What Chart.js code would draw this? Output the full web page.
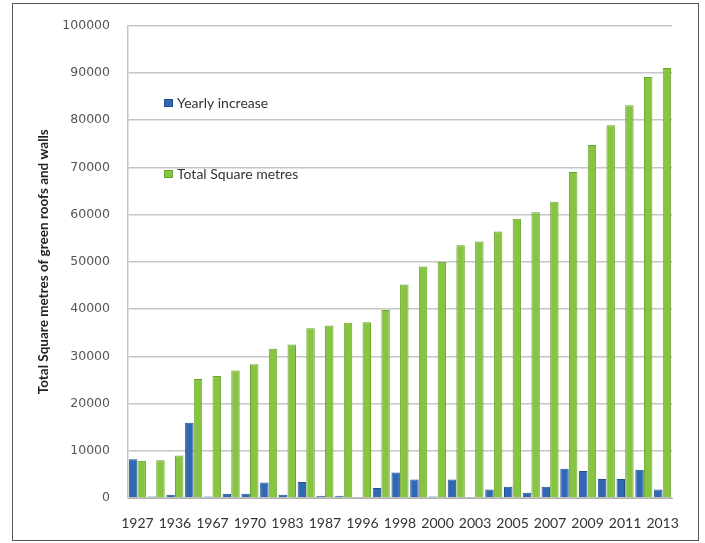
<!DOCTYPE html>
<html>
<head>
<meta charset="utf-8">
<script src="https://cdn.jsdelivr.net/npm/chart.js@4/dist/chart.umd.min.js"></script>
<style>
  html, body { margin: 0; padding: 0; background: #fff; }
  #wrap { position: relative; width: 705px; height: 543px; }
  #chart { position: absolute; left: 0; top: 0; }
  #frame { position: absolute; left: 12px; top: 3px; width: 685px; height: 536px; border: 1px solid #555; pointer-events: none; }
</style>
</head>
<body>
<div id="wrap">
  <canvas id="chart" width="705" height="543"></canvas>
  <div id="frame"></div>
</div>
<script>
// years (only every other one is printed on the axis)
const years = ["1927", "1930", "1936", "1960", "1967", "1968", "1970", "1980", "1983", "1985",
  "1987", "1990", "1996", "1997", "1998", "1999", "2000", "2001", "2003", "2004",
  "2005", "2006", "2007", "2008", "2009", "2010", "2011", "2012", "2013"];
const yearlyIncrease = [8200, 300, 700, 15900, 300, 900, 900, 3300, 700, 3400,
  500, 500, 200, 2100, 5400, 3900, 300, 3900, 200, 1800,
  2400, 1100, 2400, 6200, 5700, 4000, 4000, 6000, 1800];
const totalSquareMetres = [7900, 8000, 9000, 25200, 25800, 27000, 28300, 31600, 32500, 35900,
  36500, 37100, 37200, 39800, 45200, 49000, 50000, 53500, 54300, 56400,
  59100, 60500, 62700, 69000, 74700, 78900, 83100, 89100, 91000];
const yTicks = [0, 10000, 20000, 30000, 40000, 50000, 60000, 70000, 80000, 90000, 100000];

// legend sits inside the plot, two items stacked with a big gap
const insideLegend = {
  id: "insideLegend",
  afterDraw(chart) {
    const ctx = chart.ctx;
    const spots = [{ x: 164, y: 103 }, { x: 164, y: 174 }];
    chart.data.datasets.forEach((ds, i) => {
      const p = spots[i];
      ctx.save();
      ctx.fillStyle = ds.backgroundColor;
      ctx.fillRect(p.x, p.y - 4, 9, 8);
      ctx.strokeStyle = ds.borderColor;
      ctx.lineWidth = 1;
      ctx.strokeRect(p.x + 0.5, p.y - 3.5, 8, 7);
      ctx.fillStyle = "#333";
      ctx.font = "14px Lato";
      ctx.textBaseline = "middle";
      ctx.fillText(ds.label, p.x + 13, p.y);
      ctx.restore();
    });
  },
};

const ctx = document.getElementById("chart").getContext("2d");
const myChart = new Chart(ctx, {
  type: "bar",
  data: {
    labels: years,
    datasets: [
      {
        label: "Yearly increase",
        data: yearlyIncrease,
        backgroundColor: "#3068b4",
        borderColor: "#234f92",
        borderWidth: 1,
        categoryPercentage: 0.92,
        barPercentage: 0.98,
      },
      {
        label: "Total Square metres",
        data: totalSquareMetres,
        backgroundColor: "#86c442",
        borderColor: "#6aa52e",
        borderWidth: 1,
        categoryPercentage: 0.92,
        barPercentage: 0.98,
      },
    ],
  },
  options: {
    responsive: false,
    animation: false,
    layout: { padding: { left: 26, right: 33, top: 23, bottom: 0 } },
    plugins: {
      legend: { display: false },
      tooltip: { enabled: false },
    },
    scales: {
      x: {
        grid: { display: false },
        border: { color: "#b0b0b0", width: 1 },
        ticks: {
          autoSkip: false,
          maxRotation: 0,
          minRotation: 0,
          padding: 9,
          color: "#333",
          font: { family: "Lato", size: 14 },
          callback: (v, i) => (i % 2 === 0 ? years[i] : ""),
        },
        afterFit: (s) => { s.height = 45; },
      },
      y: {
        min: 0,
        max: 100000,
        afterBuildTicks: (s) => { s.ticks = yTicks.map((v) => ({ value: v })); },
        grid: { color: "#c6c6c6", lineWidth: 1.5, drawTicks: false },
        border: { color: "#c6c6c6", width: 1.5 },
        ticks: {
          padding: 18,
          color: "#555",
          font: { family: "DejaVu Sans", size: 12.5 },
          callback: (v) => String(v),
        },
        title: {
          display: true,
          text: "Total Square metres of green roofs and walls",
          color: "#222",
          font: { family: "Lato", size: 13.5, weight: "bold" },
          padding: { top: 10, bottom: 0 },
        },
        afterFit: (s) => { s.width = 102; },
      },
    },
  },
  plugins: [insideLegend],
});
</script>
</body>
</html>
